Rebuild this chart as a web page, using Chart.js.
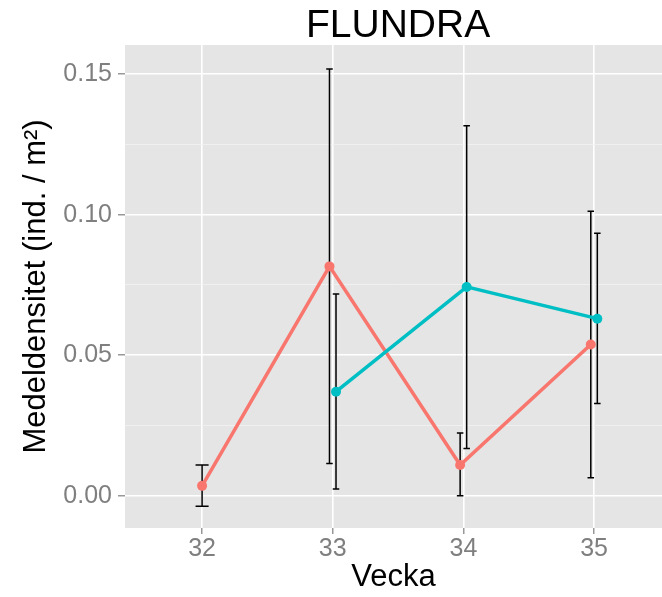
<!DOCTYPE html>
<html lang="sv">
<head>
<meta charset="UTF-8">
<title>FLUNDRA</title>
<script src="https://cdn.jsdelivr.net/npm/chart.js@4.4.1/dist/chart.umd.min.js"></script>
<style>
  html, body { margin: 0; padding: 0; background: #fff; }
  #wrap { width: 662px; height: 597px; }
</style>
</head>
<body>
<div id="wrap"><canvas id="chart" width="662" height="597"></canvas></div>
<script>
// weeks on the x axis
const weeks = [32, 33, 34, 35];

// group A (red): mean density with lower / upper error limits
const meanA = [0.0035, 0.0816, 0.0109, 0.0538];
const lowA  = [-0.0038, 0.0115, 0.0000, 0.0064];
const highA = [0.0109, 0.1519, 0.0223, 0.1012];

// group B (teal): no catch in week 32
const meanB = [null, 0.0370, 0.0743, 0.0630];
const lowB  = [null, 0.0024, 0.0168, 0.0328];
const highB = [null, 0.0718, 0.1317, 0.0934];

// y axis labels and the minor grid between them
const yTicks = [0, 0.05, 0.10, 0.15];
const yMinor = [0.025, 0.075, 0.125];

const RED = '#F8766D';
const TEAL = '#00BFC4';
const DODGE = 0.05;     // dodge width between the two groups
const BAR_W = 0.1;      // error bar cap width (single group)

Chart.defaults.font.family = '"Liberation Sans", Arial, sans-serif';

// shift each point sideways when both groups have a value that week
function dodge(i, sign) {
  const both = meanA[i] !== null && meanB[i] !== null;
  return both ? sign * DODGE / 2 : 0;
}

function groupPoints(mean, sign) {
  const pts = [];
  weeks.forEach((w, i) => {
    if (mean[i] !== null) pts.push({ x: w + dodge(i, sign), y: mean[i] });
  });
  return pts;
}

const groups = [
  { mean: meanA, low: lowA, high: highA, sign: -1, color: RED },
  { mean: meanB, low: lowB, high: highB, sign: 1, color: TEAL }
];

const panelBg = {
  id: 'panelBg',
  beforeDraw(chart) {
    const { ctx, chartArea: a } = chart;
    ctx.save();
    ctx.fillStyle = '#E5E5E5';
    ctx.fillRect(a.left, a.top, a.right - a.left, a.bottom - a.top);
    ctx.restore();
  }
};

const errorBars = {
  id: 'errorBars',
  beforeDatasetsDraw(chart) {
    const { ctx, scales: { x, y } } = chart;
    ctx.save();
    ctx.strokeStyle = '#000';
    ctx.lineWidth = 1.5;
    groups.forEach(g => {
      weeks.forEach((w, i) => {
        if (g.mean[i] === null) return;
        const off = dodge(i, g.sign);
        const half = (off === 0 ? BAR_W : BAR_W / 2) / 2;
        const cx = x.getPixelForValue(w + off);
        const x0 = x.getPixelForValue(w + off - half);
        const x1 = x.getPixelForValue(w + off + half);
        const yt = y.getPixelForValue(g.high[i]);
        const yb = y.getPixelForValue(g.low[i]);
        ctx.beginPath();
        ctx.moveTo(cx, yt); ctx.lineTo(cx, yb);
        ctx.moveTo(x0, yt); ctx.lineTo(x1, yt);
        ctx.moveTo(x0, yb); ctx.lineTo(x1, yb);
        ctx.stroke();
      });
    });
    ctx.restore();
  }
};

// plot title centred over the panel
const panelTitle = {
  id: 'panelTitle',
  afterDraw(chart) {
    const { ctx, scales: { x } } = chart;
    const mid = (weeks[0] + weeks[weeks.length - 1]) / 2;
    ctx.save();
    ctx.fillStyle = '#000';
    ctx.font = '39px "Liberation Sans", Arial, sans-serif';
    ctx.textAlign = 'center';
    ctx.textBaseline = 'middle';
    ctx.fillText('FLUNDRA', x.getPixelForValue(mid), 26);
    ctx.restore();
  }
};

const isMajor = v => yTicks.includes(v);

new Chart(document.getElementById('chart'), {
  type: 'line',
  data: {
    datasets: groups.map((g, k) => ({
      data: groupPoints(g.mean, g.sign),
      order: groups.length - k,   // later group drawn on top
      borderColor: g.color,
      backgroundColor: g.color,
      borderWidth: 3.5,
      pointRadius: 5,
      pointHoverRadius: 5,
      pointBorderWidth: 0,
      tension: 0
    }))
  },
  options: {
    responsive: false,
    animation: false,
    layout: { autoPadding: false, padding: { top: 45, left: 0, right: 0, bottom: 0 } },
    plugins: {
      legend: { display: false },
      tooltip: { enabled: false }
    },
    scales: {
      x: {
        type: 'linear',
        min: 31.41,
        max: 35.52,
        afterBuildTicks: s => { s.ticks = weeks.map(v => ({ value: v })); },
        afterFit: s => { s.height = 69; },
        border: { display: false },
        grid: { color: '#FFFFFF', lineWidth: 1.6, tickColor: '#7F7F7F', tickLength: 6, tickWidth: 1.2 },
        ticks: {
          color: '#7F7F7F',
          font: { size: 25, lineHeight: 1 },
          padding: 3,
          autoSkip: false,
          maxRotation: 0,
          callback: v => String(v)
        },
        title: {
          display: true,
          text: 'Vecka',
          color: '#000',
          font: { size: 31 },
          padding: { top: 0, bottom: 1 }
        }
      },
      y: {
        type: 'linear',
        min: -0.0115,
        max: 0.1604,
        afterBuildTicks: s => {
          s.ticks = yTicks.concat(yMinor).sort((a, b) => a - b).map(v => ({ value: v }));
        },
        afterFit: s => { s.width = 125; },
        border: { display: false },
        grid: {
          color: c => isMajor(c.tick.value) ? '#FFFFFF' : '#F2F2F2',
          lineWidth: c => isMajor(c.tick.value) ? 1.6 : 0.8,
          tickColor: c => isMajor(c.tick.value) ? '#7F7F7F' : 'rgba(0,0,0,0)',
          tickLength: 7,
          tickWidth: 1.2
        },
        ticks: {
          color: '#7F7F7F',
          font: { size: 25 },
          padding: 6,
          callback: v => isMajor(v) ? v.toFixed(2) : ''
        },
        title: {
          display: true,
          text: 'Medeldensitet (ind. / m²)',
          color: '#000',
          font: { size: 31 },
          padding: { top: 18, bottom: 0 }
        }
      }
    }
  },
  plugins: [panelBg, errorBars, panelTitle]
});
</script>
</body>
</html>
